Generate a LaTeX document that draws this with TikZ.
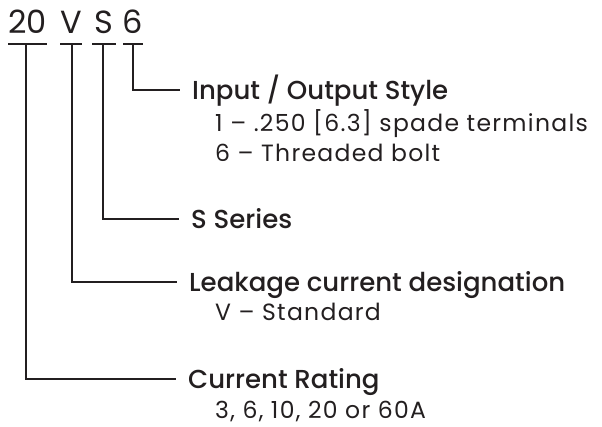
\documentclass[tikz,border=0pt]{standalone}
\usepackage{fontspec}
\setmainfont{Poppins}
\newfontfamily\headfont{Poppins Medium}
\newfontfamily\subfont[LetterSpace=5.5]{Poppins}
\definecolor{ink}{HTML}{231F20}
\begin{document}
\begin{tikzpicture}[x=1pt,y=-1pt,
  code/.style={inner sep=0pt, anchor=base, text=ink, font=\fontsize{32}{32}\selectfont},
  head/.style={inner xsep=12pt, inner ysep=0pt, anchor=base west, text=ink, font=\headfont\fontsize{26}{26}\selectfont},
  sub/.style={inner sep=0pt, anchor=base west, text=ink, font=\subfont\fontsize{23.5}{23.5}\selectfont},
  wire/.style={draw=ink, line width=2.6pt, line join=miter}]
\useasboundingbox (0,0) rectangle (602,426);
\fill[white] (0,0) rectangle (602,426);
% code letters
\node[code] (c20) at (27.5,33) {20};
\node[code] (cV) at (71,33) {V};
\node[code] (cS) at (104,33) {S};
\node[code] (c6) at (133,33) {6};
% bars
\draw[wire] (8,44) -- (47,44);
\draw[wire] (60,44) -- (82,44);
\draw[wire] (92,44) -- (116,44);
\draw[wire] (123,44) -- (143,44);
\coordinate (t20) at (26,44);
\coordinate (tV) at (72,44);
\coordinate (tS) at (103,44);
\coordinate (t6) at (133,44);
% headings
\node[head] (h6) at (180,99) {Input / Output Style};
\node[sub] (s6a) at (215,131) {1 – .250 [6.3] spade terminals};
\node[sub] (s6b) at (215,161) {6 – Threaded bolt};
\node[head] (hS) at (179,228) {S Series};
\node[head] (hV) at (177,291) {Leakage current designation};
\node[sub] (sVa) at (215,320) {V – Standard};
\node[head] (h20) at (176,388) {Current Rating};
\node[sub] (s20a) at (215,418) {3, 6, 10, 20 or 60A};
% connectors
\draw[wire] (t6) |- ([yshift=9pt]h6.base west);
\draw[wire] (tS) |- ([yshift=9pt]hS.base west);
\draw[wire] (tV) |- ([yshift=9pt]hV.base west);
\draw[wire] (t20) |- ([yshift=9pt]h20.base west);
\end{tikzpicture}
\end{document}
